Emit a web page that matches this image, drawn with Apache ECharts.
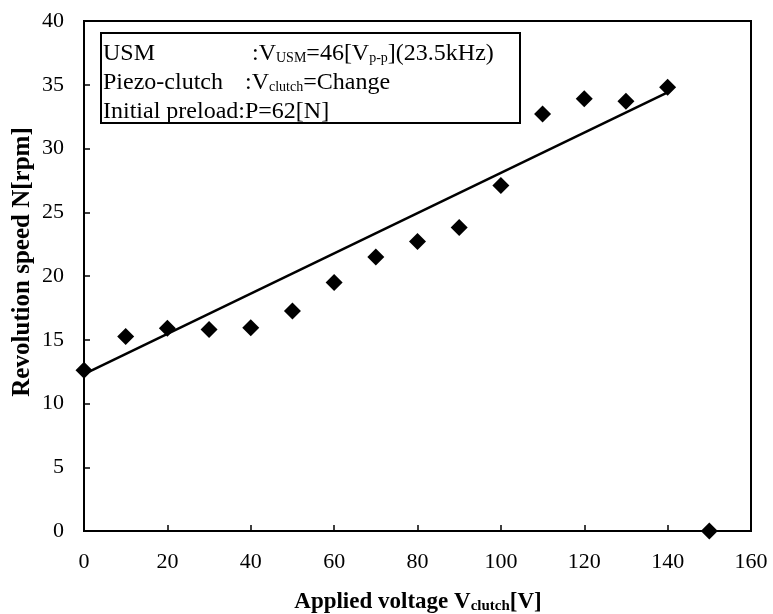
<!DOCTYPE html>
<html><head><meta charset="utf-8">
<script src="https://cdn.jsdelivr.net/npm/echarts@6/dist/echarts.min.js"></script>
<style>html,body{margin:0;padding:0;background:#fff}#c{width:773px;height:614px}</style>
</head><body><div id="c"></div>
<script>
// Data
const voltages = [0, 10, 20, 30, 40, 50, 60, 70, 80, 90, 100, 110, 120, 130, 140, 150];
const speeds   = [12.6, 15.25, 15.9, 15.8, 15.95, 17.25, 19.5, 21.5, 22.7, 23.8, 27.1, 32.7, 33.9, 33.7, 34.8, 0];
const trendVoltages = [0, 140];
const trendSpeeds   = [12.3, 34.4];

const FONT = 'Liberation Serif';
const chart = echarts.init(document.getElementById('c'), null, {renderer: 'canvas'});

const scatterData = voltages.map((v, i) => [v, speeds[i]]);
const trendData = trendVoltages.map((v, i) => [v, trendSpeeds[i]]);

const axisCommon = {
  axisLine: {show: true, onZero: false, lineStyle: {color: '#000', width: 2}},
  axisTick: {show: true, inside: true, length: 6, lineStyle: {color: '#000', width: 1.5}},
  splitLine: {show: false},
  axisLabel: {color: '#000', fontFamily: FONT, fontSize: 22}
};

const main = {fontFamily: FONT, fontSize: 24, lineHeight: 28, color: '#000', verticalAlign: 'bottom'};
const sub = {fontFamily: FONT, fontSize: 14, lineHeight: 14, color: '#000', verticalAlign: 'bottom'};
const bmain = {fontFamily: FONT, fontSize: 23, fontWeight: 'bold', lineHeight: 30, color: '#000', verticalAlign: 'bottom'};
const bsub = {fontFamily: FONT, fontSize: 15, fontWeight: 'bold', lineHeight: 15, color: '#000', verticalAlign: 'bottom'};

chart.setOption({
  animation: false,
  backgroundColor: '#fff',
  grid: {left: 84, right: 22, top: 21, bottom: 83, show: true, borderColor: '#000', borderWidth: 2, backgroundColor: 'transparent'},
  xAxis: Object.assign({type: 'value', min: 0, max: 160, interval: 20}, axisCommon,
    {axisLabel: Object.assign({}, axisCommon.axisLabel, {margin: 20})}),
  yAxis: Object.assign({type: 'value', min: 0, max: 40, interval: 5}, axisCommon,
    {axisLabel: Object.assign({}, axisCommon.axisLabel, {margin: 20})}),
  series: [
    {type: 'line', data: trendData, symbol: 'none', lineStyle: {color: '#000', width: 2.5}, z: 2},
    {type: 'scatter', data: scatterData, symbol: 'diamond', symbolSize: 17, itemStyle: {color: '#000', opacity: 1}, z: 3}
  ],
  graphic: [
    {type: 'rect', shape: {x: 101, y: 33, width: 419, height: 90}, style: {fill: '#fff', stroke: '#000', lineWidth: 2}, z: 10},
    {type: 'text', x: 103, y: 37.5, z: 11, style: {text: '{a|USM}', rich: {a: main}}},
    {type: 'text', x: 252, y: 37.5, z: 11, style: {text: '{a|:V}{s|USM}{a|=46[V}{s|p-p}{a|](23.5kHz)}', rich: {a: main, s: sub}}},
    {type: 'text', x: 103, y: 66.5, z: 11, style: {text: '{a|Piezo-clutch}', rich: {a: main}}},
    {type: 'text', x: 245, y: 66.5, z: 11, style: {text: '{a|:V}{s|clutch}{a|=Change}', rich: {a: main, s: sub}}},
    {type: 'text', x: 103, y: 95.5, z: 11, style: {text: '{a|Initial preload:P=62[N]}', rich: {a: main}}},
    {type: 'text', x: 418, y: 584, z: 11, style: {text: '{a|Applied voltage V}{s|clutch}{a|[V]}', rich: {a: bmain, s: bsub}, align: 'center'}},
    {type: 'text', x: 23, y: 262, rotation: Math.PI / 2, z: 11, style: {text: 'Revolution speed N[rpm]', fontFamily: FONT, fontSize: 25, fontWeight: 'bold', fill: '#000', align: 'center', verticalAlign: 'middle'}}
  ]
});
</script>
</body></html>
